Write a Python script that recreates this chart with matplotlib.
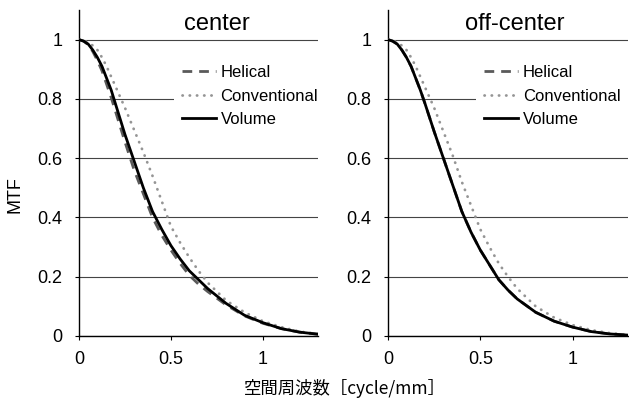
import numpy as np
import matplotlib.pyplot as plt

plt.rcParams['font.family'] = ['Liberation Sans', 'DejaVu Sans']

# spatial frequency [cycle/mm]
freq = [0, 0.025, 0.05, 0.075, 0.1, 0.125, 0.15, 0.175, 0.2, 0.25, 0.3, 0.35, 0.4,
        0.45, 0.5, 0.55, 0.6, 0.65, 0.7, 0.8, 0.9, 1.0, 1.1, 1.2, 1.3]

# center
helical_c = [1, 0.995, 0.983, 0.96, 0.93, 0.895, 0.85, 0.805, 0.755, 0.655, 0.56, 0.48,
             0.40, 0.34, 0.29, 0.245, 0.205, 0.175, 0.15, 0.105, 0.068, 0.043, 0.025,
             0.013, 0.006]
conv_c = [1, 0.997, 0.99, 0.98, 0.965, 0.94, 0.91, 0.875, 0.84, 0.77, 0.695, 0.62,
          0.54, 0.455, 0.37, 0.315, 0.265, 0.22, 0.18, 0.12, 0.08, 0.05, 0.03, 0.015,
          0.007]
volume_c = [1, 0.995, 0.985, 0.965, 0.94, 0.91, 0.87, 0.83, 0.78, 0.68, 0.59, 0.50,
            0.42, 0.36, 0.305, 0.26, 0.22, 0.19, 0.16, 0.11, 0.07, 0.045, 0.025, 0.013,
            0.006]

# off-center
helical_o = [1, 0.995, 0.985, 0.965, 0.94, 0.91, 0.87, 0.83, 0.785, 0.69, 0.60, 0.51,
             0.42, 0.35, 0.29, 0.24, 0.19, 0.155, 0.125, 0.08, 0.05, 0.03, 0.015, 0.007,
             0.003]
conv_o = [1, 0.997, 0.99, 0.98, 0.965, 0.94, 0.91, 0.875, 0.84, 0.77, 0.69, 0.61,
          0.52, 0.44, 0.36, 0.30, 0.245, 0.20, 0.16, 0.10, 0.062, 0.037, 0.02, 0.01,
          0.004]
volume_o = [1, 0.995, 0.985, 0.965, 0.94, 0.91, 0.87, 0.83, 0.785, 0.69, 0.60, 0.51,
            0.42, 0.35, 0.29, 0.24, 0.19, 0.155, 0.125, 0.08, 0.05, 0.03, 0.015, 0.007,
            0.003]

panels = [('center', 0.75, 0.397, helical_c, conv_c, volume_c),
          ('off-center', 0.687, 0.367, helical_o, conv_o, volume_o)]

fig = plt.figure(figsize=(6.29, 3.99), dpi=100)
ax_l = fig.add_axes([79/629, 63/399, 239/629, 326/399])
ax_r = fig.add_axes([388/629, 63/399, 240/629, 326/399])

for ax, (title, tx, lx, hel, conv, vol) in zip([ax_l, ax_r], panels):
    ax.plot(freq, hel, color='#5a5a5a', lw=2.0, ls=(0, (3.5, 2.5)), label='Helical', zorder=3)
    ax.plot(freq, conv, color='#959595', lw=2.0, ls=(0, (0.1, 2.5)),
            dash_capstyle='round', label='Conventional', zorder=3)
    ax.plot(freq, vol, color='black', lw=2.0, label='Volume', zorder=4)
    ax.set_xlim(0, 1.3)
    ax.set_ylim(0, 1.1)
    ax.set_xticks([0, 0.5, 1])
    ax.set_xticklabels(['0', '0.5', '1'])
    ax.set_yticks([0, 0.2, 0.4, 0.6, 0.8, 1])
    ax.set_yticklabels(['0', '0.2', '0.4', '0.6', '0.8', '1'])
    ax.yaxis.grid(True, color='#444444', lw=0.8)
    ax.set_axisbelow(True)
    for s in ['top', 'right']:
        ax.spines[s].set_visible(False)
    ax.spines['left'].set_linewidth(1.0)
    ax.spines['bottom'].set_linewidth(1.0)
    ax.tick_params(labelsize=13, length=3, width=0.8)
    ax.tick_params(axis='y', pad=9)
    ax.tick_params(axis='x', pad=8)
    ax.text(tx, 1.034, title, ha='center', va='baseline', fontsize=17)
    leg = ax.legend(loc='upper left', bbox_to_anchor=(lx, 0.856), borderaxespad=0,
                    fontsize=12, handlelength=2.0, handletextpad=0.3, labelspacing=0.5,
                    borderpad=0.5, frameon=True, fancybox=False)
    leg.get_frame().set_edgecolor('none')
    leg.get_frame().set_facecolor('white')
    leg.get_frame().set_alpha(1)

fig.text(15/629, 1 - 195/399, 'MTF', rotation=90, ha='center', va='center', fontsize=13)
fig.text(345/629, 1 - 388/399, '空間周波数［cycle/mm］', ha='center', va='center', fontsize=12.5,
         family=['Noto Sans CJK JP', 'DejaVu Sans'])

fig.savefig('out.png', dpi=100)
